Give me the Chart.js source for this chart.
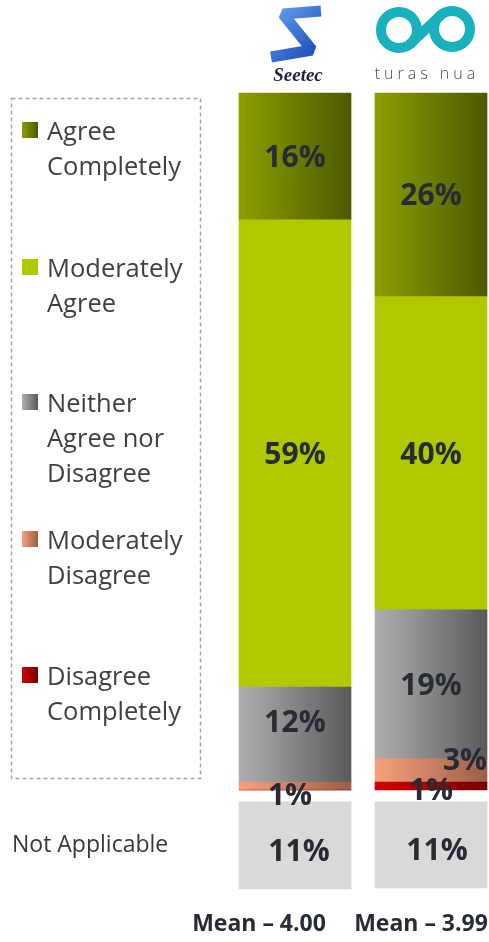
<!DOCTYPE html>
<html lang="en">
<head>
<meta charset="utf-8">
<script src="https://cdn.jsdelivr.net/npm/chart.js@4.4.1/dist/chart.umd.min.js"></script>
<style>
  html, body { margin: 0; padding: 0; background: #fff; }
  canvas { display: block; }
</style>
</head>
<body>
<canvas id="chart" width="489" height="942"></canvas>
<script>
// data (percent of respondents)
var providers = ['Seetec', 'turas nua'];
var agreeCompletely    = [16, 26];
var moderatelyAgree    = [59, 40];
var neitherNor         = [12, 19];
var moderatelyDisagree = [1, 3];
var disagreeCompletely = [0, 1];
var notApplicable      = [11, 11];
var means = ['4.00', '3.99'];

var legendLines = [
  ['Agree', 'Completely'],
  ['Moderately', 'Agree'],
  ['Neither', 'Agree nor', 'Disagree'],
  ['Moderately', 'Disagree'],
  ['Disagree', 'Completely']
];

// gradient stops (left -> right) per answer
var fills = [
  ['#8c9e00', '#4e5900'],
  ['#b0c800', '#b0c800'],
  ['#afafaf', '#5a5a5a'],
  ['#f6a17d', '#9c5f47'],
  ['#d40000', '#760000']
];
var naFill = '#d9d9d9';
var textDark = '#262b36';

// stacked bottom -> top, each bar scaled so the answered part fills the column
var stackOrder = [disagreeCompletely, moderatelyDisagree, neitherNor, moderatelyAgree, agreeCompletely];
var stackFill = [fills[4], fills[3], fills[2], fills[1], fills[0]];
var NA_GAP = 1.7;
var BAR_W = 112;

function scaleOf(i) {
  var t = 0;
  stackOrder.forEach(function (s) { t += s[i]; });
  return 100 / t;
}

var datasets = [];
var running = providers.map(function () { return 0; });
stackOrder.forEach(function (series, k) {
  datasets.push({
    raw: series,
    data: series.map(function (v, i) {
      var lo = running[i];
      running[i] += v * scaleOf(i);
      return [lo, running[i]];
    }),
    stops: stackFill[k]
  });
});
datasets.push({
  raw: notApplicable,
  data: notApplicable.map(function (v, i) { return [-NA_GAP - v * scaleOf(i), -NA_GAP]; }),
  stops: [naFill, naFill]
});
var yMin = Math.min.apply(null, datasets[datasets.length - 1].data.map(function (d) { return d[0]; }));

// label nudges for a few crowded labels: "dataset-bar" -> [dx, dy]
var nudges = { '2-0': [0, -13], '1-0': [-5, 8], '1-1': [34, -11], '0-1': [0, 3], '5-0': [4, 5], '5-1': [6, 5] };

function barFill(ctx) {
  var ds = ctx.chart.data.datasets[ctx.datasetIndex];
  if (ctx.dataIndex === undefined || !ctx.chart.scales.x) return ds.stops[0];
  var cx = ctx.chart.scales.x.getPixelForValue(ctx.dataIndex);
  if (!isFinite(cx)) return ds.stops[0];
  var g = ctx.chart.ctx.createLinearGradient(cx - BAR_W / 2, 0, cx + BAR_W / 2, 0);
  g.addColorStop(0, ds.stops[0]);
  g.addColorStop(1, ds.stops[1]);
  return g;
}

var labelPlugin = {
  id: 'segLabels',
  afterDatasetsDraw: function (chart) {
    var c = chart.ctx;
    c.save();
    c.fillStyle = textDark;
    c.font = 'bold 30px "Open Sans"';
    c.textAlign = 'center';
    c.textBaseline = 'middle';
    chart.data.datasets.forEach(function (ds, di) {
      chart.getDatasetMeta(di).data.forEach(function (el, i) {
        var v = ds.raw[i];
        if (!v) return;
        var n = nudges[di + '-' + i] || [0, 0];
        c.fillText(v + '%', el.x + n[0], (el.y + el.base) / 2 + 2 + n[1]);
      });
    });
    c.restore();
  }
};

var decorPlugin = {
  id: 'decor',
  afterDraw: function (chart) {
    var c = chart.ctx;
    c.save();
    // legend box
    c.strokeStyle = '#a6a6a6';
    c.lineWidth = 1.5;
    c.setLineDash([4, 3]);
    c.strokeRect(11.5, 98.5, 189, 680);
    c.setLineDash([]);
    var tops = [131, 268, 403, 540, 676];
    c.font = '25.5px "Open Sans"';
    c.textBaseline = 'middle';
    c.textAlign = 'left';
    legendLines.forEach(function (lines, k) {
      var g = c.createLinearGradient(22, 0, 38, 0);
      g.addColorStop(0, fills[k][0]);
      g.addColorStop(1, fills[k][1]);
      c.fillStyle = g;
      c.fillRect(22, tops[k] - 9, 16, 16);
      c.fillStyle = '#404040';
      lines.forEach(function (t, j) { c.fillText(t, 47, tops[k] + 2 + j * 35); });
    });
    c.fillStyle = '#333a44';
    c.font = '23px "Open Sans"';
    c.fillText('Not Applicable', 12, 845);

    // mean scores
    c.fillStyle = textDark;
    c.font = 'bold 23px "Open Sans"';
    c.textAlign = 'center';
    var meanX = [259, 421];
    means.forEach(function (m, i) { c.fillText('Mean \u2013 ' + m, meanX[i], 924); });

    // provider marks above the columns
    var x0 = chart.scales.x.getPixelForValue(0);
    var x1 = chart.scales.x.getPixelForValue(1);
    var bg = c.createLinearGradient(x0 - 25, 5, x0 + 27, 62);
    bg.addColorStop(0, '#6aa8f4');
    bg.addColorStop(1, '#1241b0');
    c.strokeStyle = bg;
    c.lineWidth = 11;
    c.lineJoin = 'bevel';
    c.beginPath();
    c.moveTo(x0 + 26, 11);
    c.lineTo(x0 - 12, 14);
    c.lineTo(x0 + 17, 50);
    c.lineTo(x0 - 24, 57);
    c.stroke();
    c.fillStyle = '#1b2440';
    c.font = 'bold italic 19px "Liberation Serif"';
    c.fillText(providers[0], x0 + 3, 76);

    c.strokeStyle = '#19b1be';
    c.lineWidth = 10;
    c.beginPath();
    c.arc(x1 - 32, 30, 18, 0, Math.PI * 2);
    c.stroke();
    c.beginPath();
    c.arc(x1 + 21, 29, 18, 0, Math.PI * 2);
    c.stroke();
    c.beginPath();
    c.moveTo(x1 - 22, 45);
    c.lineTo(x1 + 10, 15);
    c.stroke();
    c.fillStyle = '#4a4a4a';
    c.font = '300 16px "Open Sans"';
    c.letterSpacing = '4px';
    c.fillText(providers[1], x1 - 4, 74);
    c.restore();
  }
};

new Chart(document.getElementById('chart'), {
  type: 'bar',
  data: {
    labels: providers,
    datasets: datasets.map(function (d) {
      return {
        data: d.data,
        raw: d.raw,
        stops: d.stops,
        backgroundColor: barFill,
        borderWidth: 0,
        barThickness: BAR_W,
        grouped: false,
        clip: false
      };
    })
  },
  options: {
    responsive: false,
    animation: false,
    layout: { padding: { left: 295, right: 58, top: 93, bottom: 53 } },
    plugins: { legend: { display: false }, tooltip: { enabled: false } },
    scales: {
      x: { display: false, offset: false },
      y: { display: false, min: yMin, max: 100 }
    }
  },
  plugins: [labelPlugin, decorPlugin]
});
</script>
</body>
</html>
